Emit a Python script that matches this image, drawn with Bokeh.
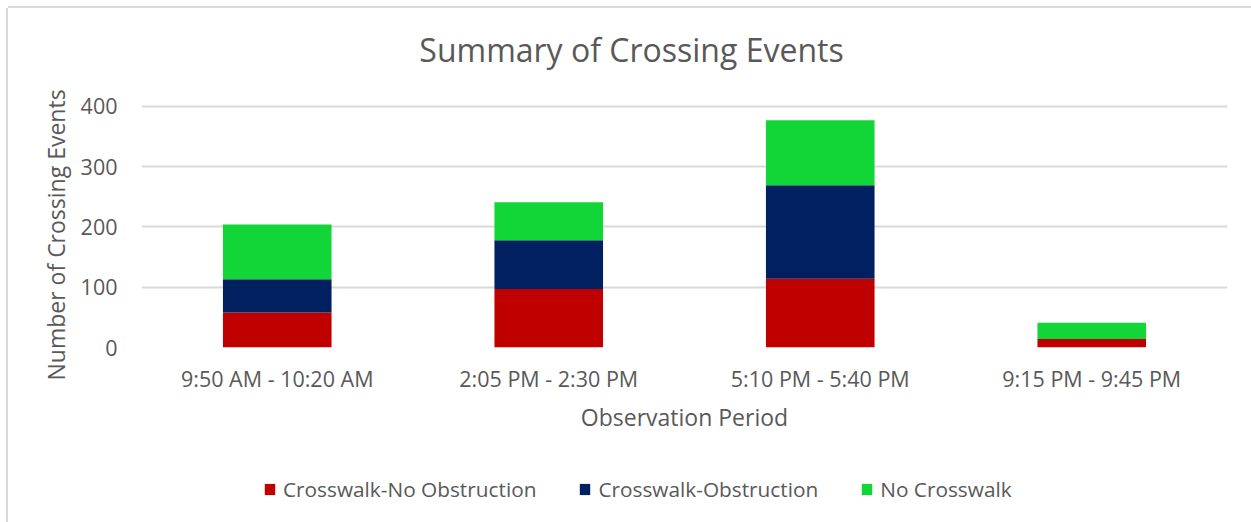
from bokeh.plotting import figure
from bokeh.models import FactorRange, Range1d, Legend, LegendItem, Label
from bokeh.layouts import column
from bokeh.embed import file_html
from bokeh.resources import INLINE

periods = ["9:50 AM - 10:20 AM", "2:05 PM - 2:30 PM", "5:10 PM - 5:40 PM", "9:15 PM - 9:45 PM"]
series_names = ["Crosswalk-No Obstruction", "Crosswalk-Obstruction", "No Crosswalk"]
no_obstruction = [58, 97, 114, 14]
obstruction = [55, 81, 155, 0]
no_crosswalk = [91, 63, 108, 27]
colors = ["#C00000", "#002060", "#12D638"]
y_ticks = [0, 100, 200, 300, 400]
title_text = "Summary of Crossing Events"

FONT = "Open Sans"
GRAY = "#595959"
W = 1243


def blank(height):
    f = figure(width=W, height=height, x_range=Range1d(0, 1), y_range=Range1d(0, 1),
               x_axis_type=None, y_axis_type=None, output_backend="svg", toolbar_location=None,
               min_border=0)
    f.outline_line_color = None
    f.grid.visible = False
    return f


# ---- title strip
t = blank(64)
t.styles = {"margin-left": "8px", "margin-top": "8px",
            "box-shadow": "-2px 0 0 0 #d9d9d9, 0 -2px 0 0 #d9d9d9"}
t.add_layout(Label(x=490, y=23, x_units="screen", y_units="screen", text=title_text,
                   text_font=FONT, text_font_size="32px", text_color=GRAY,
                   text_align="center", text_baseline="alphabetic"))

# ---- main chart
p = figure(width=W, height=368, x_range=FactorRange(factors=periods),
           y_range=Range1d(0, 403), output_backend="svg", toolbar_location=None,
           min_border_left=133, min_border_right=24, min_border_top=32, min_border_bottom=93)
p.outline_line_color = None
p.styles = {"margin-left": "8px", "box-shadow": "-2px 0 0 0 #d9d9d9"}

data = {"period": periods, "a": no_obstruction, "b": obstruction, "c": no_crosswalk}
p.vbar_stack(["a", "b", "c"], x="period", width=0.4, color=colors, source=data, line_color=None)

p.xgrid.grid_line_color = None
p.ygrid.grid_line_color = "#d9d9d9"
p.ygrid.grid_line_width = 2
p.yaxis.ticker = y_ticks

for ax in (p.xaxis[0], p.yaxis[0]):
    ax.axis_line_color = None
    ax.major_tick_line_color = None
    ax.minor_tick_line_color = None
    ax.major_tick_out = 0
    ax.major_tick_in = 0
    ax.major_label_text_font = FONT
    ax.major_label_text_font_size = "21.5px"
    ax.major_label_text_color = GRAY
    ax.axis_label_text_font = FONT
    ax.axis_label_text_font_size = "23px"
    ax.axis_label_text_font_style = "normal"
    ax.axis_label_text_color = GRAY
p.yaxis.major_label_standoff = 24
p.xaxis.major_label_standoff = 16
p.xaxis.axis_label = "Observation Period"
p.xaxis.axis_label_standoff = 5
p.yaxis.axis_label = "Number of Crossing Events" + "\u00a0" * 3
p.yaxis.axis_label_standoff = 6

# ---- legend strip
lg = blank(82)
lg.styles = {"margin-left": "8px", "box-shadow": "-2px 0 0 0 #d9d9d9"}
keys = [lg.vbar(x=[0], top=[0], bottom=[0], width=0.4, color=c, line_color=None) for c in colors]
legend = Legend(items=[LegendItem(label=n, renderers=[r]) for n, r in zip(series_names, keys)],
                orientation="horizontal", location=(122, 19), padding=0, margin=0, spacing=42,
                glyph_width=13, glyph_height=14, label_standoff=7,
                label_text_font=FONT, label_text_font_size="20.8px", label_text_color=GRAY,
                border_line_color=None, background_fill_alpha=0)
lg.add_layout(legend, "center")

page = column(t, p, lg, spacing=0)

open("out.html", "w").write(file_html(page, INLINE))
